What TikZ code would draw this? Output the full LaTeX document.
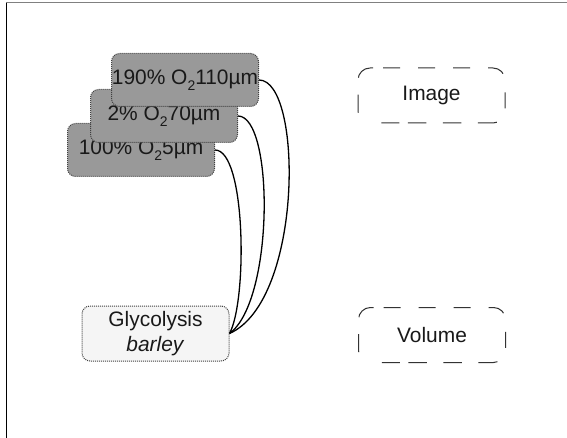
\documentclass[tikz,border=0pt]{standalone}
\usepackage{fontspec}
\setmainfont{Liberation Sans}
% lowered subscript, a little deeper than \textsubscript
\newcommand\lowsub[1]{\raisebox{-0.28em}{\fontsize{14}{14}\selectfont #1}}
\begin{document}
\begin{tikzpicture}[x=1bp,y=-1bp,
  lbl/.style={font=\fontsize{21}{25}\selectfont, text=black!90, align=center, inner sep=0pt},
  sample/.style={lbl, draw=black!75, fill=black!40, dash pattern=on 1bp off 1bp, line width=1bp,
    rounded corners=8bp, minimum width=147bp, minimum height=53bp},
  source/.style={sample, fill=black!4, minimum height=55bp},
  slot/.style={lbl, minimum width=147bp, minimum height=55bp},
  % long dashes laid out around the outline, clockwise from the top edge
  slotline/.style={draw=black!80, line width=1bp,
    dash pattern=on 3bp off 10bp on 17bp off 18bp on 17bp off 18bp on 17bp off 18bp
      on 17bp off 19bp on 16bp off 17.5bp on 19bp off 16.5bp on 18.5bp off 16.5bp
      on 18.5bp off 8.5bp on 18bp off 28.5bp on 18bp off 17bp on 20bp off 20bp},
  link/.style={draw=black, line width=1.3bp}]
\useasboundingbox (0,0) rectangle (567,438);
% page frame
\draw[black!50, line width=1bp] (6,2.7) -- (567,2.7);
\draw[black, line width=1bp] (6.3,2.7) -- (6.3,438);
% stacked samples, back to front
\node[sample] (n3) at (141,150) {100\% O\lowsub{2}5µm};
\node[sample] (n2) at (164,116) {2\% O\lowsub{2}70µm};
\node[sample] (n1) at (185,80) {190\% O\lowsub{2}110µm};
\node[source] (g) at (155.5,333.5) {Glycolysis\\\textit{barley}};
% output slots with a rounded outline drawn around each
\node[slot] (img) at (431.5,95.5) {Image};
\node[slot] (vol) at (432,335) {Volume};
\foreach \s in {img,vol}
  \draw[slotline, shift={(\s.center)}]
    (-61.5,-27.5) -- (61.5,-27.5)
    .. controls (68.13,-27.5) and (73.5,-22.13) .. (73.5,-15.5) -- (73.5,15.5)
    .. controls (73.5,22.13) and (68.13,27.5) .. (61.5,27.5) -- (-61.5,27.5)
    .. controls (-68.13,27.5) and (-73.5,22.13) .. (-73.5,15.5) -- (-73.5,-15.5)
    .. controls (-73.5,-22.13) and (-68.13,-27.5) .. (-61.5,-27.5);
% links
\draw[link] (n1.east) .. controls +(44,0) and +(74,-33) .. (g.east);
\draw[link] (n2.east) .. controls +(36,0) and +(45,-33) .. (g.east);
\draw[link] (n3.east) .. controls +(31,0) and +(18,-33) .. (g.east);
\end{tikzpicture}
\end{document}
